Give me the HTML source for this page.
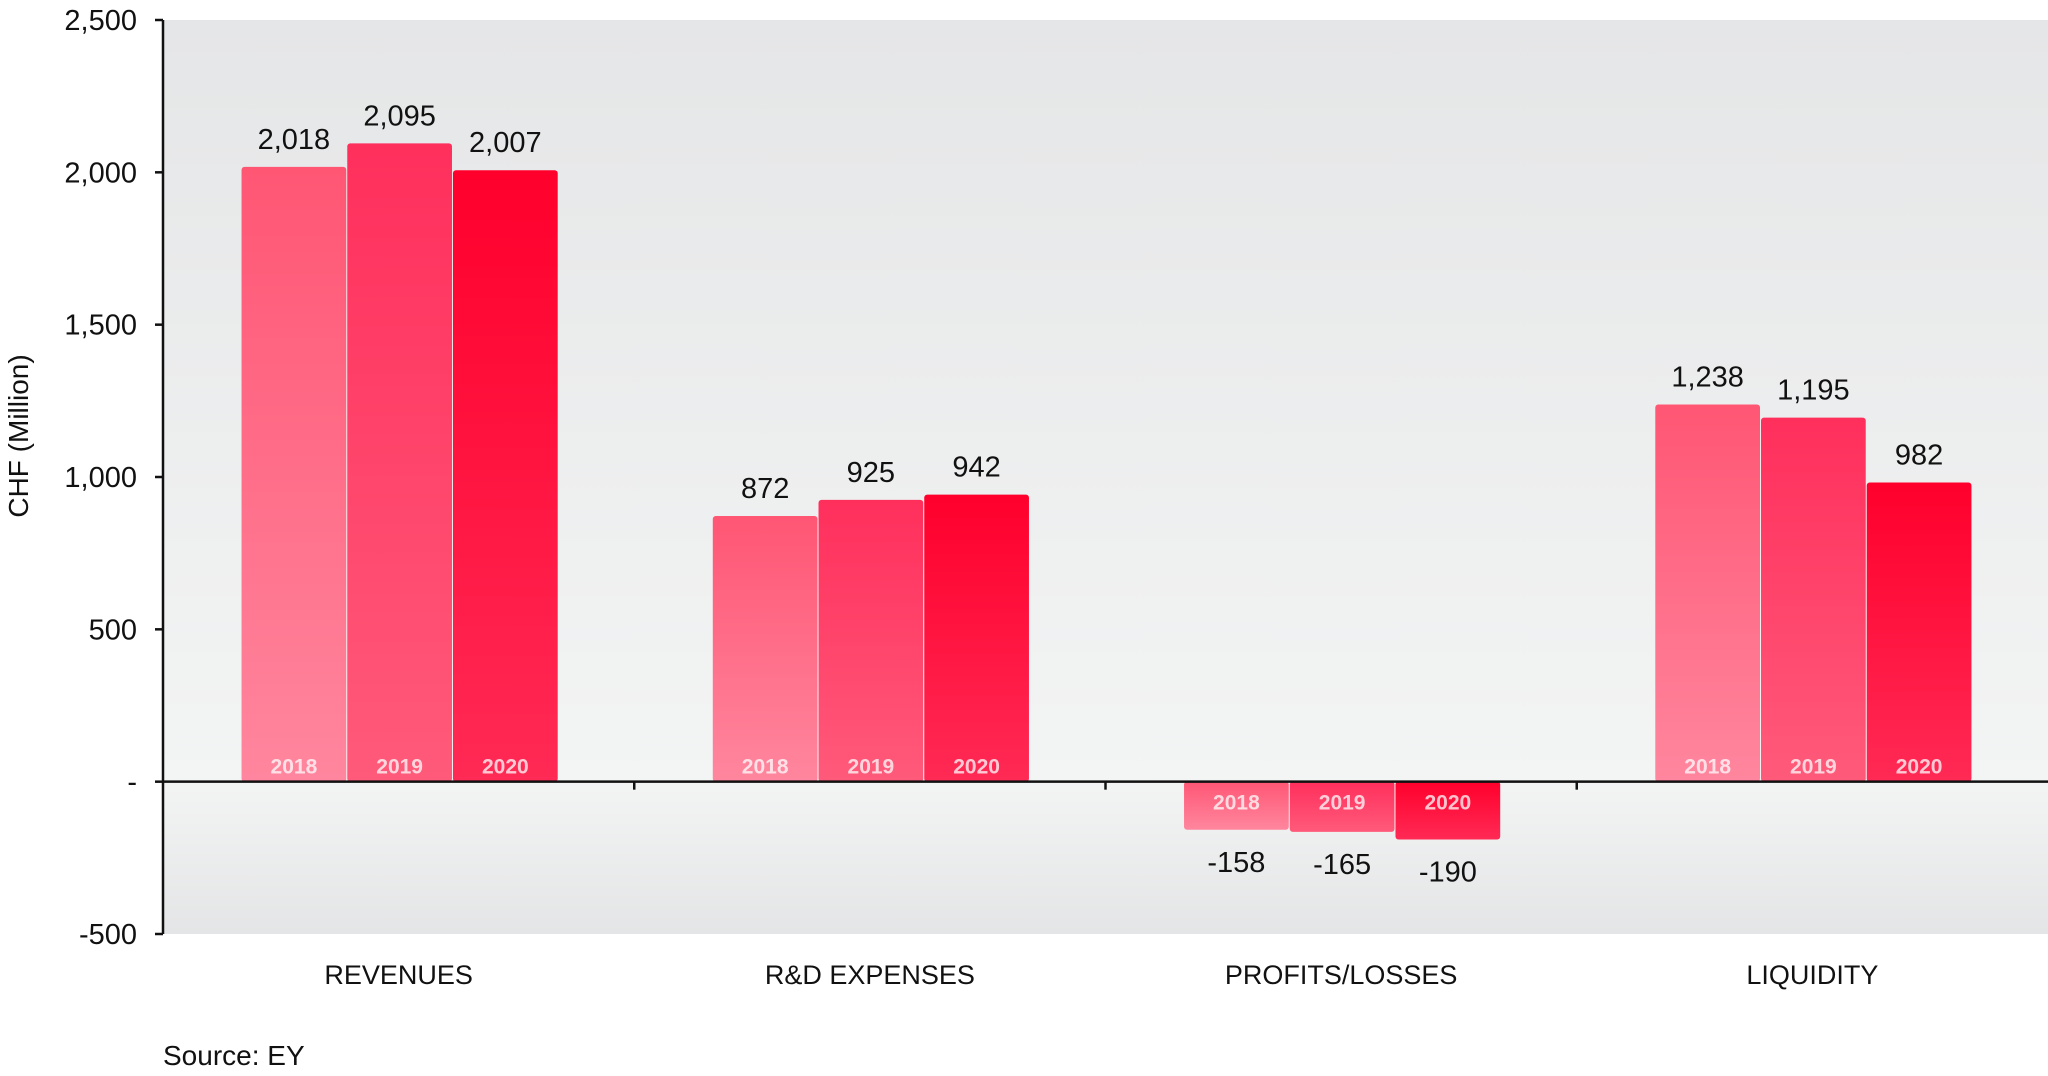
<!DOCTYPE html>
<html><head><meta charset="utf-8"><style>
html,body{margin:0;padding:0;background:#fff;}
svg{display:block;font-family:"Liberation Sans",sans-serif;}
</style></head><body>
<svg id="chart" width="2048" height="1076" viewBox="0 0 2048 1076" xmlns="http://www.w3.org/2000/svg">
<defs>
<linearGradient id="bg" x1="0" y1="0" x2="0" y2="1">
<stop offset="0" stop-color="#e5e6e7"/><stop offset="0.83" stop-color="#f3f4f4"/><stop offset="1" stop-color="#e4e5e6"/>
</linearGradient>
<linearGradient id="g0" x1="0" y1="0" x2="0" y2="1"><stop offset="0" stop-color="#ff5674"/><stop offset="1" stop-color="#ff869e"/></linearGradient>
<linearGradient id="g1" x1="0" y1="0" x2="0" y2="1"><stop offset="0" stop-color="#ff2f5c"/><stop offset="1" stop-color="#ff5a7a"/></linearGradient>
<linearGradient id="g2" x1="0" y1="0" x2="0" y2="1"><stop offset="0" stop-color="#ff002c"/><stop offset="1" stop-color="#ff2a55"/></linearGradient>
</defs>
<rect x="163" y="20" width="1885" height="914" fill="url(#bg)"/>
<g id="bars"></g>
<g id="axes"></g>
<text transform="translate(28,436) rotate(-90)" text-anchor="middle" font-size="28" fill="#111">CHF (Million)</text>
<text x="163" y="1065" font-size="28" fill="#111">Source: EY</text>
</svg>
<script>
const categories = ["REVENUES","R&D EXPENSES","PROFITS/LOSSES","LIQUIDITY"];
const years = ["2018","2019","2020"];
const values2018 = [2018, 872, -158, 1238];
const values2019 = [2095, 925, -165, 1195];
const values2020 = [2007, 942, -190, 982];
const yTicks = [-500, 0, 500, 1000, 1500, 2000, 2500];
const yTickLabels = ["-500","-","500","1,000","1,500","2,000","2,500"];

const NS="http://www.w3.org/2000/svg";
const x0=163, x1=2048, yTop=20, yBot=934, vMin=-500, vMax=2500;
const y = v => yBot - (v - vMin) / (vMax - vMin) * (yBot - yTop);
const catW = (x1 - x0) / categories.length;
const barW = catW * 2 / 3 / 3;
const catX = i => x0 + i * catW;
function mk(tag, attrs, parent){const e=document.createElementNS(NS,tag);for(const k in attrs)e.setAttribute(k,attrs[k]);parent.appendChild(e);return e;}
const bars=document.getElementById('bars'), axes=document.getElementById('axes');
const series=[values2018,values2019,values2020];
const fmt = v => v<0 ? "-"+Math.abs(v).toLocaleString('en-US') : v.toLocaleString('en-US');
categories.forEach((c,i)=>{
  const start = catX(i) + catW/6;
  series.forEach((s,j)=>{
    const v=s[i], bx=start+j*(barW+1), top=Math.min(y(v),y(0)), h=Math.abs(y(v)-y(0));
    const r=mk('rect',{x:bx,y:top,width:barW,height:h,rx:3,fill:`url(#g${j})`},bars);
    
    
    const yl=mk('text',{x:bx+barW/2,y: v>=0 ? y(0)-8 : y(0)+28,'text-anchor':'middle','font-size':21,'font-weight':'bold',fill:'rgba(255,255,255,0.75)'},bars);
    yl.textContent=years[j];
    
    
    const vl=mk('text',{x:bx+barW/2,y: v>=0 ? y(v)-18 : y(v)+42,'text-anchor':'middle','font-size':29,fill:'#111'},bars);
    vl.textContent=fmt(v);
    
    
  });
  const cl=mk('text',{x:catX(i)+catW/2,y:984,'text-anchor':'middle','font-size':27,fill:'#111'},axes);
  cl.textContent=c;
  
  
  if(i>0){const t=mk('line',{x1:catX(i),x2:catX(i),y1:y(0),y2:y(0)+8,stroke:'#111','stroke-width':2.5},axes);
    
    }
});
const ax=mk('line',{x1:x0,x2:x0,y1:yTop,y2:yBot,stroke:'#111','stroke-width':2.5},axes);


const xa=mk('line',{x1:x0,x2:x1,y1:y(0),y2:y(0),stroke:'#111','stroke-width':2.5},axes);


yTicks.forEach((t,k)=>{
  const tk=mk('line',{x1:x0-8,x2:x0,y1:y(t),y2:y(t),stroke:'#111','stroke-width':2.5},axes);
  
  
  const tl=mk('text',{x:137,y:y(t)+10,'text-anchor':'end','font-size':29,fill:'#111'},axes);
  tl.textContent=yTickLabels[k];
  
  
});
</script>
</body></html>
